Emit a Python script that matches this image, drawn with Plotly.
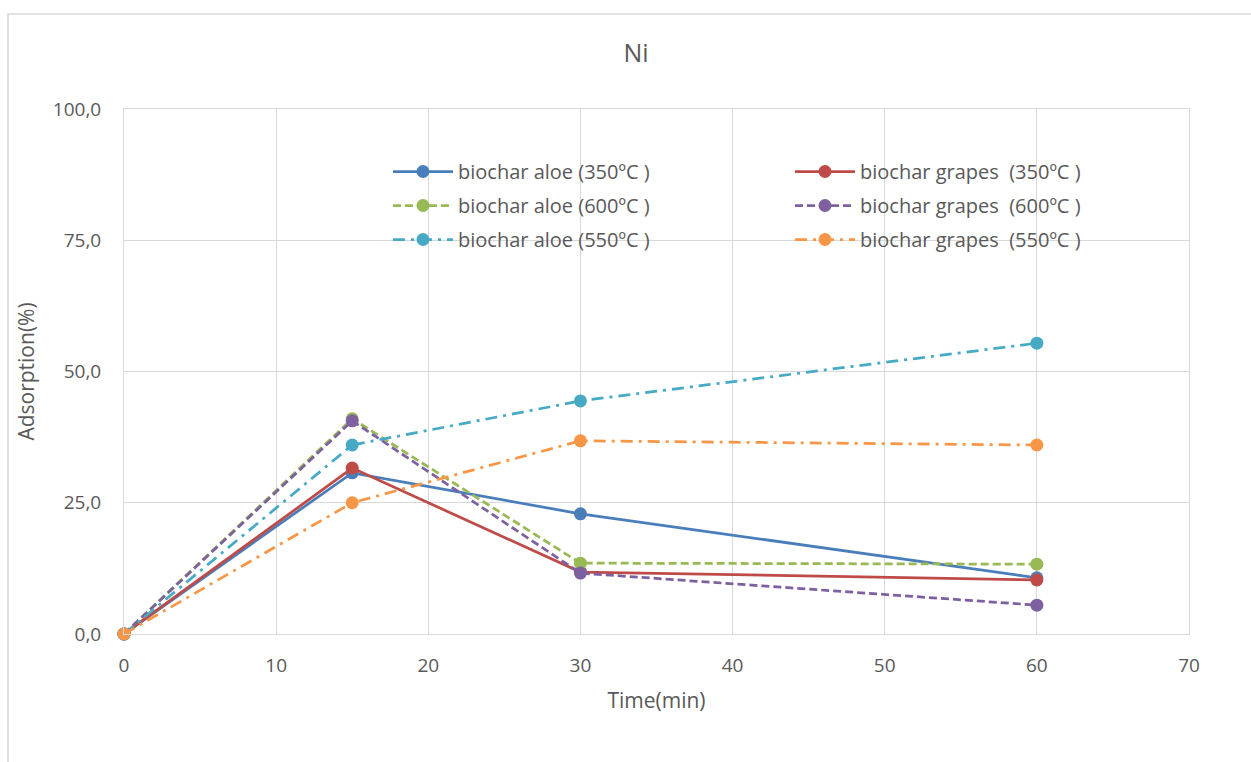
import plotly.graph_objects as go

time_min = [0, 15, 30, 60]
aloe_350 = [0.0, 30.7, 22.9, 10.7]
grapes_350 = [0.0, 31.6, 11.8, 10.3]
aloe_600 = [0.0, 41.0, 13.5, 13.3]
grapes_600 = [0.0, 40.6, 11.6, 5.5]
aloe_550 = [0.0, 36.0, 44.4, 55.4]
grapes_550 = [0.0, 25.0, 36.8, 36.0]

names = [
    "biochar aloe (350ºC )", "biochar grapes  (350ºC )",
    "biochar aloe (600ºC )", "biochar grapes  (600ºC )",
    "biochar aloe (550ºC )", "biochar grapes  (550ºC )",
]
series = [aloe_350, grapes_350, aloe_600, grapes_600, aloe_550, grapes_550]
colors = ["#4a7ebb", "#be4b48", "#98b954", "#7d60a0", "#46aac5", "#f79646"]
dashes = ["solid", "solid", "8px,4px", "8px,4px", "12px,6px,3px,6px", "12px,6px,3px,6px"]
legend_ids = ["legend", "legend2", "legend", "legend2", "legend", "legend2"]

y_ticks = [0, 25, 50, 75, 100]
y_ticktext = ["0,0", "25,0", "50,0", "75,0", "100,0"]
x_ticks = [0, 10, 20, 30, 40, 50, 60, 70]

font_family = "'Open Sans', sans-serif"
text_color = "#595959"

L, R, T, B = 124, 1189, 109, 634
PW, PH = R - L, B - T

def px_x(p):
    return (p - L) / PW

def px_y(p):
    return (B - p) / PH

fig = go.Figure()
for i, (name, ys, c, d, lg) in enumerate(zip(names, series, colors, dashes, legend_ids)):
    fig.add_trace(go.Scatter(
        x=time_min, y=ys, name=name, mode="lines+markers",
        line=dict(color=c, width=2.75, dash=d),
        marker=dict(color=c, size=13),
        legend=lg, legendgroup=f"g{i}", cliponaxis=False,
    ))

legend_common = dict(orientation="v", yanchor="top", xanchor="left",
                     bgcolor="rgba(0,0,0,0)", font=dict(size=20, color=text_color),
                     itemwidth=60, tracegroupgap=5)

fig.update_layout(
    width=1251, height=762,
    margin=dict(l=L, r=1251 - R, t=T, b=762 - B),
    paper_bgcolor="white", plot_bgcolor="white",
    font=dict(family=font_family, color=text_color, size=19),
    title=dict(text="Ni", x=636 / 1251, xref="container", xanchor="center",
               y=1 - 53 / 762, yref="container", yanchor="middle",
               font=dict(size=25, color=text_color)),
    xaxis=dict(range=[0, 70], tickvals=x_ticks, showgrid=True, gridcolor="#d9d9d9",
               gridwidth=1, zeroline=False, showline=True, linecolor="#d9d9d9",
               ticks="outside", ticklen=14, tickcolor="rgba(0,0,0,0)",
               title=dict(text="Time(min)", standoff=16, font=dict(size=21)),
               mirror=True),
    yaxis=dict(range=[0, 100], tickvals=y_ticks, ticktext=y_ticktext, showgrid=True,
               gridcolor="#d9d9d9", gridwidth=1, zeroline=False, showline=True,
               linecolor="#d9d9d9", ticks="outside", ticklen=18, tickcolor="rgba(0,0,0,0)",
               title=dict(text="Adsorption(%)", standoff=12, font=dict(size=21)),
               mirror=True),
    legend=dict(x=px_x(388), y=px_y(152), **legend_common),
    legend2=dict(x=px_x(790), y=px_y(152), **legend_common),
    showlegend=True,
)

# white legend area covering the gridlines
fig.add_shape(type="rect", xref="paper", yref="paper",
              x0=px_x(335), x1=px_x(1140), y0=px_y(255), y1=px_y(155),
              line=dict(width=0), fillcolor="white", layer="between")

# outer chart border
fig.add_shape(type="rect", xref="paper", yref="paper",
              x0=px_x(8), x1=px_x(1262), y0=px_y(775), y1=px_y(14),
              line=dict(color="#d9d9d9", width=1.5), fillcolor="rgba(0,0,0,0)", layer="below")

fig.write_html("out.html")
